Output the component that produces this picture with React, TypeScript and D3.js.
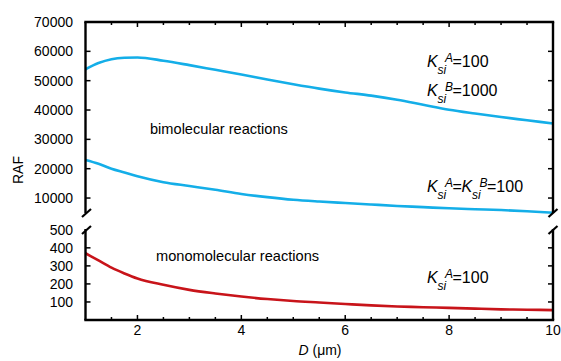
import React from 'react';
import * as d3 from 'd3';

// D in micrometres
const dValues = [1, 1.25, 1.5, 1.75, 2, 2.5, 3, 3.5, 4, 4.5, 5, 5.5, 6, 6.5, 7, 7.5, 8, 8.5, 9, 9.5, 10];

// bimolecular, Ksi^A=100, Ksi^B=1000
const bimolHigh = [53900, 56000, 57300, 57800, 57900, 56800, 55300, 53700, 52100, 50400, 48800, 47300, 46000, 44900, 43500, 41800, 40100, 38800, 37600, 36500, 35400];
// bimolecular, Ksi^A=Ksi^B=100
const bimolLow = [23000, 21700, 20000, 18700, 17400, 15400, 14100, 12800, 11400, 10300, 9400, 8800, 8300, 7800, 7300, 6900, 6500, 6200, 5900, 5500, 5000];
// monomolecular, Ksi^A=100
const monomol = [370, 330, 290, 258, 230, 195, 167, 147, 130, 116, 105, 97, 89, 81, 75, 71, 67, 63, 59, 57, 55];

const upperTicks = [10000, 20000, 30000, 40000, 50000, 60000, 70000];
const lowerTicks = [100, 200, 300, 400, 500];
const xMajorTicks = [2, 4, 6, 8, 10];

const W = 561;
const H = 361;
const left = 85.5;
const right = 553;
const top = 22;
const bottom = 320;
const breakUp = 213;
const breakLow = 229;

const BLUE = '#14aee8';
const RED = '#c8141a';
const FONT = '"Liberation Sans", Arial, sans-serif';

function KLabel({ x, y, parts }: { x: number; y: number; parts: { sup: string; after: string }[] }) {
  // each part: K_si^sup followed by text
  const items: React.ReactNode[] = [];
  let cx = x;
  parts.forEach((p, i) => {
    items.push(
      <text key={'k' + i} x={cx} y={y} fontSize={16} fontStyle="italic">K</text>,
      <text key={'s' + i} x={cx + 10.5} y={y + 7} fontSize={12} fontStyle="italic">si</text>,
      <text key={'p' + i} x={cx + 18} y={y - 5} fontSize={12} fontStyle="italic">{p.sup}</text>,
      <text key={'a' + i} x={cx + 25.5} y={y} fontSize={16}>{p.after}</text>
    );
    cx += 25.5 + (p.after === '=' ? 9 : 0);
  });
  return <g fontFamily={FONT} fill="#000">{items}</g>;
}

export default function App() {
  const x = d3.scaleLinear().domain([1, 10]).range([left, right]);
  const yUp = d3.scaleLinear().domain([4900, 70000]).range([breakUp, top]);
  const yLow = d3.scaleLinear().domain([0, 510]).range([bottom, breakLow - 1]);

  const lineUp = d3.line<number>()
    .x((_, i) => x(dValues[i]))
    .y(d => yUp(d))
    .curve(d3.curveMonotoneX);
  const lineLow = d3.line<number>()
    .x((_, i) => x(dValues[i]))
    .y(d => yLow(d))
    .curve(d3.curveMonotoneX);

  const minorX = d3.range(1.5, 10, 0.5).filter(v => !xMajorTicks.includes(v));

  const brk = (cx: number, cy: number) => (
    <line x1={cx - 4.5} y1={cy + 4} x2={cx + 4.5} y2={cy - 4} stroke="#000" strokeWidth={2.2} />
  );

  return (
    <svg width={W} height={H} style={{ position: 'fixed', left: 0, top: 0, background: '#fff' }}>
      {/* curves */}
      <path d={lineUp(bimolHigh) || ''} fill="none" stroke={BLUE} strokeWidth={2.6} />
      <path d={lineUp(bimolLow) || ''} fill="none" stroke={BLUE} strokeWidth={2.6} />
      <path d={lineLow(monomol) || ''} fill="none" stroke={RED} strokeWidth={2.6} />

      {/* frame */}
      <g stroke="#000" strokeWidth={2.4} fill="none">
        <line x1={left - 1.2} y1={top} x2={right + 1.2} y2={top} />
        <line x1={left - 1.2} y1={bottom} x2={right + 1.2} y2={bottom} />
        <line x1={left} y1={top} x2={left} y2={breakUp} />
        <line x1={left} y1={breakLow} x2={left} y2={bottom} />
        <line x1={right} y1={top} x2={right} y2={breakUp} />
        <line x1={right} y1={breakLow} x2={right} y2={bottom} />
      </g>
      {brk(left + 1, breakUp)}
      {brk(left + 1, breakLow + 1)}
      {brk(right, breakUp)}
      {brk(right, breakLow + 1)}

      {/* y ticks */}
      <g stroke="#000" strokeWidth={1.5}>
        {upperTicks.filter(t => t < 70000).map(t => (
          <g key={'u' + t}>
            <line x1={left} x2={left + 5} y1={yUp(t)} y2={yUp(t)} />
            <line x1={right - 5} x2={right} y1={yUp(t)} y2={yUp(t)} />
          </g>
        ))}
        {lowerTicks.filter(t => t < 500).map(t => (
          <g key={'l' + t}>
            <line x1={left} x2={left + 5} y1={yLow(t)} y2={yLow(t)} />
            <line x1={right - 5} x2={right} y1={yLow(t)} y2={yLow(t)} />
          </g>
        ))}
        {xMajorTicks.filter(t => t < 10).map(t => (
          <g key={'x' + t}>
            <line x1={x(t)} x2={x(t)} y1={bottom} y2={bottom - 5} />
            <line x1={x(t)} x2={x(t)} y1={top} y2={top + 5} />
          </g>
        ))}
        {minorX.map(t => (
          <g key={'m' + t}>
            <line x1={x(t)} x2={x(t)} y1={bottom} y2={bottom - 3} />
            <line x1={x(t)} x2={x(t)} y1={top} y2={top + 3} />
          </g>
        ))}
      </g>

      {/* tick labels */}
      <g fontFamily={FONT} fontSize={14} fill="#000" textAnchor="end">
        {upperTicks.map(t => (
          <text key={'tu' + t} x={73} y={yUp(t)} dy="0.36em">{t}</text>
        ))}
        {lowerTicks.map(t => (
          <text key={'tl' + t} x={73} y={yLow(t)} dy="0.36em">{t}</text>
        ))}
      </g>
      <g fontFamily={FONT} fontSize={14} fill="#000" textAnchor="middle">
        {xMajorTicks.map(t => (
          <text key={'tx' + t} x={x(t)} y={335}>{t}</text>
        ))}
      </g>

      {/* axis titles */}
      <text transform="translate(23,170) rotate(-90)" textAnchor="middle" fontFamily={FONT} fontSize={14}>RAF</text>
      <text x={320} y={355} textAnchor="middle" fontFamily={FONT} fontSize={14}>
        <tspan fontStyle="italic">D</tspan> (μm)
      </text>

      {/* annotations */}
      <text x={150} y={134} fontFamily={FONT} fontSize={14.6}>bimolecular reactions</text>
      <text x={156} y={261} fontFamily={FONT} fontSize={14.6}>monomolecular reactions</text>
      <KLabel x={427} y={67} parts={[{ sup: 'A', after: '=100' }]} />
      <KLabel x={427} y={96} parts={[{ sup: 'B', after: '=1000' }]} />
      <KLabel x={427} y={192} parts={[{ sup: 'A', after: '=' }, { sup: 'B', after: '=100' }]} />
      <KLabel x={427} y={283} parts={[{ sup: 'A', after: '=100' }]} />
    </svg>
  );
}
